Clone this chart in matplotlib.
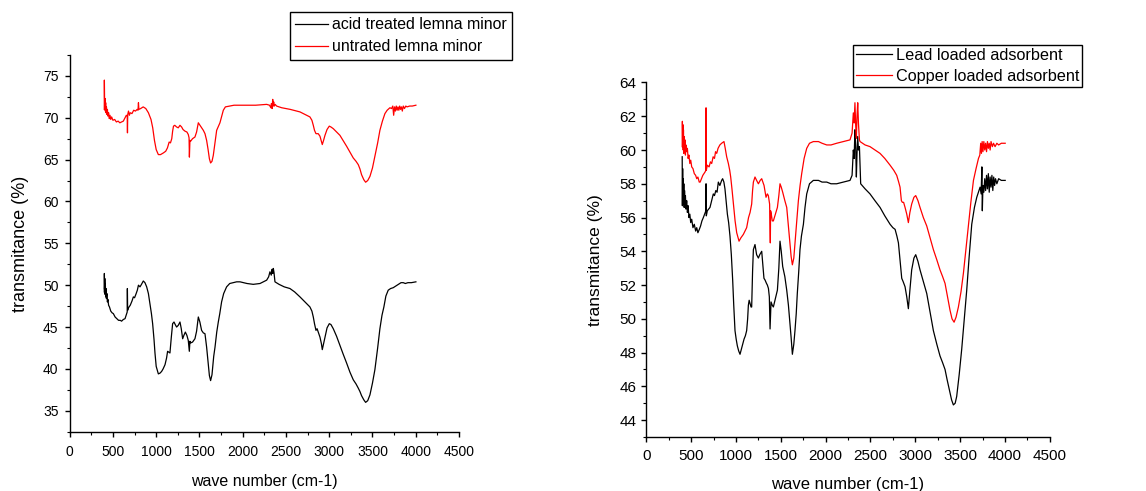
import matplotlib
matplotlib.use("Agg")
import matplotlib.pyplot as plt
from matplotlib.ticker import MultipleLocator

plt.rcParams["font.family"] = ["Liberation Sans", "DejaVu Sans"]

# FTIR spectra: (wave number cm-1, transmitance %)
acid_treated = [
    (400, 49.2), (401, 51.4), (403, 49.5), (406, 50.8), (409, 48.9), (412, 50.2), (416, 48.6),
    (420, 49.6), (425, 48.4), (430, 49.0), (436, 48.0), (442, 48.3), (450, 47.6), (460, 47.4),
    (475, 46.9), (490, 46.7), (505, 46.6), (525, 46.2), (545, 46.0), (565, 45.8), (585, 45.8),
    (600, 45.7), (620, 45.9), (640, 46.0), (655, 46.5), (665, 46.8), (667, 49.6), (670, 47.0),
    (680, 47.3), (700, 47.6), (720, 48.1), (736, 48.6), (750, 48.5), (765, 48.9), (782, 49.4),
    (795, 50.0), (813, 49.8), (830, 50.1), (851, 50.5), (870, 50.3), (890, 49.8), (910, 49.0),
    (928, 47.8), (945, 46.6), (959, 45.4), (975, 43.5), (986, 41.9), (1000, 40.3), (1025, 39.4),
    (1045, 39.5), (1063, 39.7), (1080, 40.0), (1102, 40.5), (1120, 41.3), (1132, 42.1),
    (1145, 42.0), (1159, 41.9), (1175, 43.8), (1190, 45.4), (1206, 45.6), (1220, 45.3),
    (1236, 45.0), (1255, 45.2), (1275, 45.6), (1290, 44.8), (1306, 43.6), (1320, 44.0),
    (1337, 44.4), (1355, 44.0), (1371, 43.4), (1383, 42.1), (1390, 43.3), (1398, 43.1),
    (1420, 43.2), (1448, 43.6), (1467, 44.5), (1487, 46.2), (1505, 45.6), (1525, 44.6),
    (1545, 44.3), (1564, 44.2), (1583, 42.6), (1600, 40.8), (1615, 39.2), (1629, 38.6),
    (1645, 39.3), (1665, 41.5), (1680, 42.6), (1700, 44.4), (1718, 45.6), (1735, 46.6),
    (1756, 48.0), (1780, 49.0), (1814, 49.8), (1850, 50.2), (1891, 50.3), (1930, 50.4),
    (1969, 50.4), (2050, 50.2), (2122, 50.1), (2200, 50.2), (2277, 50.6), (2300, 51.0),
    (2315, 51.6), (2330, 51.2), (2340, 51.9), (2347, 51.4), (2354, 52.0), (2362, 51.5),
    (2373, 50.4), (2420, 50.1), (2480, 49.8), (2546, 49.6), (2600, 49.2), (2662, 48.6),
    (2720, 48.0), (2777, 47.4), (2800, 46.9), (2816, 46.2), (2830, 45.4), (2847, 44.6),
    (2860, 44.8), (2873, 44.4), (2893, 43.8), (2910, 43.0), (2920, 42.3), (2935, 43.0),
    (2951, 43.8), (2975, 44.9), (3001, 45.4), (3020, 45.3), (3047, 44.8), (3085, 43.9),
    (3124, 42.8), (3160, 41.8), (3201, 40.7), (3240, 39.6), (3278, 38.7), (3310, 38.2),
    (3336, 37.7), (3355, 37.3), (3374, 36.8), (3400, 36.3), (3421, 36.0), (3445, 36.2),
    (3471, 36.9), (3500, 38.3), (3528, 39.9), (3560, 42.5), (3586, 44.8), (3610, 46.4),
    (3632, 47.4), (3655, 48.7), (3682, 49.4), (3710, 49.6), (3740, 49.7), (3770, 49.9),
    (3800, 50.1), (3830, 50.3), (3856, 50.3), (3880, 50.2), (3910, 50.3), (3950, 50.3),
    (4002, 50.4),
]

untreated = [
    (400, 71.0), (401, 74.5), (403, 72.5), (406, 71.2), (409, 72.3), (412, 70.8), (416, 71.8),
    (420, 70.6), (425, 71.3), (430, 70.4), (436, 71.0), (442, 70.2), (450, 70.6), (458, 69.9),
    (466, 70.3), (475, 69.8), (485, 70.1), (500, 69.7), (520, 69.8), (540, 69.5), (560, 69.6),
    (580, 69.4), (600, 69.5), (620, 69.6), (640, 70.0), (655, 70.3), (665, 70.2), (668, 68.2),
    (671, 70.4), (680, 70.8), (690, 70.3), (700, 70.6), (720, 70.5), (740, 70.9), (760, 70.8),
    (780, 71.0), (790, 70.9), (795, 71.8), (800, 71.0), (820, 71.1), (850, 71.3), (880, 71.1),
    (910, 70.6), (940, 69.8), (960, 68.8), (980, 67.3), (1000, 66.2), (1025, 65.6),
    (1050, 65.6), (1083, 65.8), (1110, 66.0), (1130, 66.4), (1150, 67.1), (1165, 67.0),
    (1180, 67.5), (1190, 68.4), (1200, 69.0), (1215, 69.1), (1236, 68.9), (1255, 68.8),
    (1275, 69.1), (1294, 68.9), (1310, 68.6), (1333, 68.4), (1355, 68.3), (1371, 68.0),
    (1380, 67.6), (1384, 65.3), (1390, 67.3), (1398, 67.2), (1420, 67.5), (1448, 67.7),
    (1467, 68.3), (1487, 69.4), (1500, 69.2), (1525, 68.8), (1545, 68.5), (1564, 68.1),
    (1583, 67.3), (1600, 66.2), (1615, 65.1), (1629, 64.6), (1645, 64.8), (1660, 65.5),
    (1680, 67.0), (1699, 68.5), (1720, 69.0), (1737, 69.4), (1760, 70.3), (1776, 70.9),
    (1800, 71.3), (1853, 71.4), (1900, 71.5), (1969, 71.5), (2050, 71.5), (2150, 71.5),
    (2277, 71.6), (2310, 71.5), (2325, 71.2), (2332, 71.7), (2340, 71.1), (2347, 72.2),
    (2352, 71.4), (2358, 71.9), (2365, 71.4), (2375, 71.6), (2392, 71.4), (2450, 71.2),
    (2550, 71.0), (2662, 70.7), (2720, 70.4), (2777, 70.1), (2800, 69.7), (2816, 69.1),
    (2830, 68.5), (2847, 68.1), (2873, 68.1), (2893, 67.8), (2910, 67.2), (2920, 66.8),
    (2935, 67.3), (2951, 67.9), (2975, 68.6), (3001, 69.0), (3020, 68.9), (3047, 68.7),
    (3085, 68.3), (3124, 67.9), (3160, 67.3), (3201, 66.6), (3240, 65.9), (3278, 65.2),
    (3310, 64.8), (3336, 64.4), (3355, 63.9), (3374, 63.2), (3400, 62.6), (3421, 62.3),
    (3445, 62.5), (3471, 63.0), (3500, 64.0), (3528, 65.4), (3560, 67.0), (3586, 68.5),
    (3615, 69.6), (3644, 70.5), (3670, 70.9), (3702, 71.2), (3720, 71.1), (3735, 71.4),
    (3745, 70.3), (3755, 71.3), (3765, 70.8), (3775, 71.4), (3785, 70.9), (3795, 71.3),
    (3805, 70.9), (3815, 71.4), (3825, 71.0), (3835, 71.3), (3845, 70.8), (3856, 71.4),
    (3870, 71.1), (3885, 71.4), (3900, 71.3), (3930, 71.4), (3960, 71.4), (4002, 71.5),
]

lead_loaded = [
    (400, 59.6), (402, 56.7), (405, 58.9), (408, 56.8), (411, 58.3), (414, 57.0), (418, 58.0),
    (422, 56.6), (426, 57.6), (431, 56.9), (436, 57.3), (442, 56.5), (450, 57.0), (458, 56.3),
    (466, 56.7), (475, 56.0), (485, 56.2), (495, 55.7), (506, 55.9), (520, 55.4), (535, 55.6),
    (550, 55.2), (562, 55.4), (575, 55.1), (591, 55.3), (605, 55.5), (620, 55.8), (636, 56.0),
    (650, 56.2), (664, 56.4), (666, 58.0), (669, 56.1), (680, 56.4), (695, 56.5), (710, 56.6),
    (728, 57.0), (747, 57.4), (760, 57.3), (775, 57.6), (789, 57.5), (803, 58.1), (820, 57.9),
    (840, 58.2), (851, 58.3), (865, 58.1), (877, 57.7), (890, 57.0), (904, 56.2), (918, 55.7),
    (933, 54.9), (948, 53.8), (963, 52.3), (975, 50.8), (989, 49.3), (1002, 48.8), (1015, 48.4),
    (1030, 48.1), (1045, 47.9), (1065, 48.3), (1090, 48.8), (1105, 49.0), (1119, 49.3),
    (1130, 50.0), (1138, 50.8), (1147, 51.1), (1157, 50.9), (1168, 50.7), (1175, 50.7),
    (1185, 52.8), (1194, 54.1), (1212, 54.4), (1230, 53.8), (1250, 53.6), (1265, 53.8),
    (1287, 54.0), (1300, 53.2), (1312, 52.4), (1324, 52.3), (1340, 52.1), (1350, 52.0),
    (1362, 51.8), (1372, 51.3), (1380, 49.4), (1384, 50.0), (1391, 51.0), (1405, 50.8),
    (1417, 50.7), (1440, 51.2), (1462, 51.7), (1478, 53.0), (1491, 54.6), (1505, 54.0),
    (1521, 53.1), (1545, 52.5), (1566, 51.7), (1585, 50.8), (1603, 49.7), (1615, 48.9),
    (1629, 47.9), (1645, 48.5), (1658, 49.3), (1672, 50.3), (1684, 51.5), (1700, 52.8),
    (1714, 54.1), (1730, 54.9), (1752, 55.6), (1770, 56.6), (1789, 57.4), (1820, 58.0),
    (1863, 58.2), (1920, 58.2), (1960, 58.1), (2012, 58.1), (2060, 58.0), (2123, 58.0),
    (2200, 58.1), (2272, 58.2), (2295, 58.5), (2309, 60.0), (2318, 59.5), (2327, 61.2),
    (2335, 60.2), (2343, 58.4), (2350, 59.8), (2358, 60.8), (2366, 60.0), (2377, 60.2),
    (2386, 58.8), (2391, 58.0), (2440, 57.7), (2495, 57.4), (2550, 57.0), (2607, 56.6),
    (2660, 56.1), (2719, 55.6), (2750, 55.4), (2775, 55.3), (2795, 54.9), (2812, 54.5),
    (2830, 53.5), (2849, 52.4), (2865, 52.2), (2886, 51.9), (2905, 51.3), (2923, 50.6),
    (2940, 51.7), (2960, 52.9), (2985, 53.6), (3005, 53.8), (3030, 53.4), (3053, 52.9),
    (3090, 52.2), (3128, 51.5), (3165, 50.4), (3202, 49.3), (3240, 48.5), (3276, 47.8),
    (3305, 47.4), (3332, 47.0), (3355, 46.4), (3380, 45.8), (3405, 45.2), (3425, 44.9),
    (3445, 45.0), (3462, 45.4), (3490, 46.7), (3518, 48.2), (3545, 49.9), (3574, 51.7),
    (3600, 53.6), (3630, 55.6), (3660, 56.6), (3686, 57.2), (3705, 57.5), (3723, 57.8),
    (3735, 57.4), (3743, 59.0), (3748, 56.4), (3755, 57.9), (3765, 57.5), (3775, 58.3),
    (3785, 57.6), (3795, 58.5), (3805, 57.7), (3815, 58.6), (3825, 57.5), (3835, 58.4),
    (3845, 57.8), (3855, 58.5), (3865, 57.6), (3875, 58.4), (3885, 57.9), (3895, 58.3),
    (3910, 58.0), (3930, 58.3), (3960, 58.2), (4003, 58.2),
]

copper_loaded = [
    (400, 60.2), (402, 61.7), (405, 60.4), (408, 61.5), (411, 60.0), (414, 61.2), (418, 59.8),
    (422, 60.8), (426, 59.9), (431, 60.6), (436, 59.7), (442, 60.3), (450, 59.9), (458, 60.1),
    (466, 59.5), (475, 59.7), (485, 59.2), (495, 59.4), (506, 59.0), (520, 58.9), (535, 58.6),
    (550, 58.5), (562, 58.3), (575, 58.4), (590, 58.1), (600, 58.1), (615, 58.3), (630, 58.5),
    (643, 58.6), (655, 58.7), (664, 58.8), (666, 62.5), (669, 58.8), (680, 59.1), (700, 59.0),
    (715, 59.3), (729, 59.2), (745, 59.6), (760, 59.5), (772, 59.9), (785, 59.8), (800, 60.1),
    (820, 60.3), (840, 60.4), (866, 60.5), (880, 60.1), (896, 59.6), (915, 59.2), (930, 58.8),
    (941, 58.4), (955, 57.7), (971, 56.8), (990, 55.8), (1008, 55.1), (1034, 54.6),
    (1055, 54.8), (1082, 55.0), (1100, 55.2), (1119, 55.4), (1140, 56.0), (1157, 56.3),
    (1175, 56.8), (1185, 57.6), (1194, 58.1), (1212, 58.4), (1230, 58.2), (1250, 58.0),
    (1270, 58.2), (1287, 58.3), (1300, 58.1), (1313, 57.9), (1335, 57.2), (1350, 57.4),
    (1361, 57.3), (1375, 56.8), (1380, 55.5), (1383, 54.5), (1386, 56.4), (1391, 56.3),
    (1405, 55.8), (1417, 55.8), (1440, 56.2), (1462, 56.6), (1478, 57.3), (1491, 58.0),
    (1505, 57.8), (1521, 57.5), (1545, 57.0), (1566, 56.6), (1585, 55.5), (1603, 54.5),
    (1615, 53.7), (1629, 53.2), (1645, 53.6), (1658, 54.5), (1675, 55.6), (1696, 57.0),
    (1715, 57.9), (1733, 58.6), (1760, 59.5), (1789, 60.1), (1820, 60.4), (1863, 60.5),
    (1920, 60.5), (1960, 60.4), (2012, 60.3), (2060, 60.3), (2123, 60.4), (2200, 60.5),
    (2272, 60.6), (2295, 61.0), (2309, 62.2), (2318, 61.6), (2327, 62.8), (2335, 61.5),
    (2343, 60.7), (2350, 62.0), (2358, 62.8), (2366, 61.6), (2377, 60.6), (2384, 60.5),
    (2440, 60.3), (2495, 60.2), (2550, 60.0), (2607, 59.8), (2660, 59.5), (2719, 59.1),
    (2760, 58.8), (2793, 58.5), (2815, 58.1), (2830, 57.8), (2845, 57.0), (2856, 56.9),
    (2870, 56.9), (2886, 56.6), (2905, 56.2), (2923, 55.7), (2940, 56.3), (2960, 56.8),
    (2985, 57.2), (3005, 57.3), (3030, 57.0), (3053, 56.6), (3090, 56.0), (3128, 55.5),
    (3165, 54.8), (3202, 54.1), (3240, 53.5), (3276, 52.9), (3305, 52.5), (3332, 52.1),
    (3360, 51.3), (3388, 50.5), (3410, 50.0), (3433, 49.8), (3455, 50.1), (3481, 50.7),
    (3510, 51.6), (3537, 52.7), (3565, 54.1), (3593, 55.5), (3620, 56.9), (3649, 58.2),
    (3678, 58.9), (3705, 59.5), (3720, 59.7), (3730, 60.4), (3738, 59.8), (3746, 60.5),
    (3755, 59.9), (3765, 60.5), (3775, 60.0), (3785, 60.4), (3795, 59.9), (3805, 60.5),
    (3815, 60.1), (3825, 60.4), (3835, 60.0), (3845, 60.5), (3860, 60.2), (3873, 60.4),
    (3890, 60.2), (3910, 60.4), (3930, 60.3), (3960, 60.4), (4003, 60.4),
]

left_labels = ["acid treated lemna minor", "untrated lemna minor"]
right_labels = ["Lead loaded adsorbent", "Copper loaded adsorbent"]


def style_axes(ax, ylim, ymajor, yminor, fs, xpad, ypad):
    ax.set_xlim(0, 4500)
    ax.set_ylim(*ylim)
    ax.xaxis.set_major_locator(MultipleLocator(500))
    ax.xaxis.set_minor_locator(MultipleLocator(250))
    ax.yaxis.set_major_locator(MultipleLocator(ymajor))
    ax.yaxis.set_minor_locator(MultipleLocator(yminor))
    ax.spines["top"].set_visible(False)
    ax.spines["right"].set_visible(False)
    for s in ("left", "bottom"):
        ax.spines[s].set_linewidth(1.0)
    ax.tick_params(which="major", direction="out", length=3.5, width=1.0, labelsize=fs)
    ax.tick_params(which="minor", direction="out", length=2.2, width=0.8)
    ax.tick_params(axis="x", which="major", pad=xpad)
    ax.tick_params(axis="y", which="major", pad=ypad)


fig = plt.figure(figsize=(11.46, 4.91), dpi=100)

ax1 = fig.add_axes([0.0608, 0.120, 0.3397, 0.768])
x, y = zip(*acid_treated)
ax1.plot(x, y, color="black", lw=0.9, label=left_labels[0])
x, y = zip(*untreated)
ax1.plot(x, y, color="#ff0000", lw=0.9, label=left_labels[1])
style_axes(ax1, (32.45, 77.5), 5, 2.5, 10, 5.5, 4.5)
ax1.set_xlabel("wave number (cm-1)", fontsize=11.5, labelpad=11)
ax1.set_ylabel("transmitance (%)", fontsize=13, labelpad=10)
ax1.legend(loc="upper left", bbox_to_anchor=(290 / 1146, 1 - 12.3 / 491),
           bbox_transform=fig.transFigure, fontsize=11.4, frameon=True, fancybox=False,
           edgecolor="black", framealpha=1, borderaxespad=0, handlelength=2.1,
           handletextpad=0.25, borderpad=0.32, labelspacing=0.45)

ax2 = fig.add_axes([0.564, 0.110, 0.352, 0.722])
x, y = zip(*lead_loaded)
ax2.plot(x, y, color="black", lw=0.9, label=right_labels[0])
x, y = zip(*copper_loaded)
ax2.plot(x, y, color="#ff0000", lw=0.9, label=right_labels[1])
style_axes(ax2, (43.0, 64.0), 2, 1, 11, 5.5, 3.5)
ax2.set_xlabel("wave number (cm-1)", fontsize=12, labelpad=10)
ax2.set_ylabel("transmitance (%)", fontsize=12.5, labelpad=12)
ax2.legend(loc="upper left", bbox_to_anchor=(852.7 / 1146, 1 - 44.7 / 491),
           bbox_transform=fig.transFigure, fontsize=11.7, frameon=True, fancybox=False,
           edgecolor="black", framealpha=1, borderaxespad=0, handlelength=2.2,
           handletextpad=0.25, borderpad=0.2, labelspacing=0.35)

fig.savefig("out.png", dpi=100)
